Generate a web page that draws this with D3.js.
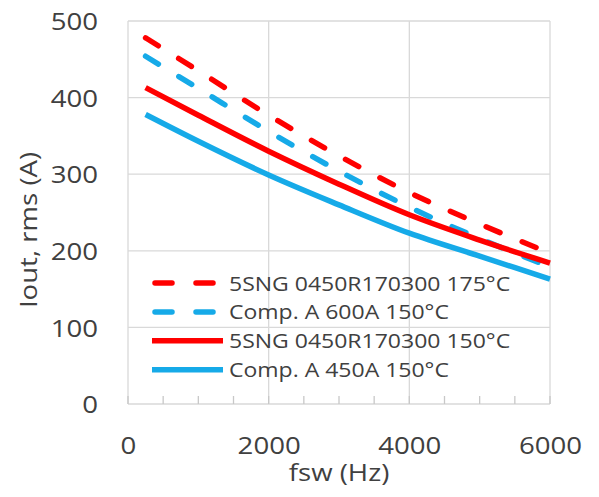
<!DOCTYPE html>
<html>
<head>
<meta charset="utf-8">
<script src="https://cdn.jsdelivr.net/npm/d3@7"></script>
<style>
  body { margin: 0; background: #fff; }
  svg { display: block; }
</style>
</head>
<body>
<div id="chart"></div>
<script>
// switching frequency (Hz) and rms output current (A)
const freq = [250, 1000, 2000, 3000, 4000, 5000, 6000];
const redDashed = [478, 435, 377, 324, 276, 235, 197];
const blueDashed = [454, 412, 356, 304, 257, 216, 179];
const redSolid = [413, 377, 330, 287, 247, 214, 184];
const blueSolid = [378, 343, 299, 260, 223, 193, 163];

const seriesNames = [
    "5SNG 0450R170300 175°C",
    "Comp. A 600A 150°C",
    "5SNG 0450R170300 150°C",
    "Comp. A 450A 150°C"
];
const xTicks = [0, 2000, 4000, 6000];
const xMinor = d3.range(0, 6001, 500);
const yTicks = [0, 100, 200, 300, 400, 500];

const RED = "#ff0000", BLUE = "#16aae8";
const series = [
    {name: seriesNames[0], values: redDashed, color: RED, dashed: true},
    {name: seriesNames[1], values: blueDashed, color: BLUE, dashed: true},
    {name: seriesNames[2], values: redSolid, color: RED, dashed: false},
    {name: seriesNames[3], values: blueSolid, color: BLUE, dashed: false}
];

const width = 599, height = 497;
const margin = {top: 21, right: 49, bottom: 93, left: 128};
const sx = 1.15; // the source text is stretched sideways
const textColor = "#404040", gridColor = "#d9d9d9";
const font = "'Open Sans', 'Noto Sans', sans-serif";

const x = d3.scaleLinear().domain([0, 6000]).range([margin.left, width - margin.right]);
const y = d3.scaleLinear().domain([0, 500]).range([height - margin.bottom, margin.top]);

const svg = d3.select("#chart").append("svg")
    .attr("width", width)
    .attr("height", height)
    .style("font-family", font);

svg.append("rect").attr("width", width).attr("height", height).attr("fill", "#fff");

// grid
svg.append("g").selectAll("line")
    .data(yTicks)
    .join("line")
        .attr("x1", x(0)).attr("x2", x(6000))
        .attr("y1", d => y(d)).attr("y2", d => y(d))
        .attr("stroke", gridColor).attr("stroke-width", 1.3);

svg.append("g").selectAll("line")
    .data(xTicks)
    .join("line")
        .attr("x1", d => x(d)).attr("x2", d => x(d))
        .attr("y1", y(0)).attr("y2", y(500))
        .attr("stroke", gridColor).attr("stroke-width", 1.3);

// minor ticks pointing up from the x axis
svg.append("g").selectAll("line")
    .data(xMinor)
    .join("line")
        .attr("x1", d => x(d)).attr("x2", d => x(d))
        .attr("y1", y(0)).attr("y2", y(0) - 8)
        .attr("stroke", "#c8c8c8").attr("stroke-width", 1.3);

// axis labels
const yAxis = d3.axisLeft(y).tickValues(yTicks).tickSize(0).tickPadding(0);
const gy = svg.append("g").attr("transform", `translate(${x(0)},0)`).call(yAxis);
gy.select(".domain").remove();
gy.selectAll("text")
    .attr("x", -30 / sx)
    .attr("dy", "0.36em")
    .attr("transform", `scale(${sx},1)`)
    .attr("font-size", 24)
    .attr("font-family", font)
    .attr("fill", textColor);

const xAxis = d3.axisBottom(x).tickValues(xTicks).tickFormat(d3.format("d")).tickSize(0).tickPadding(0);
const gx = svg.append("g").attr("transform", `translate(0,${y(0)})`).call(xAxis);
gx.select(".domain").remove();
gx.selectAll("text")
    .attr("y", 50)
    .attr("dy", 0)
    .attr("transform", `scale(${sx},1)`)
    .attr("font-size", 24)
    .attr("font-family", font)
    .attr("fill", textColor);

svg.append("text")
    .attr("transform", `translate(${(x(0) + x(6000)) / 2},481) scale(${sx},1)`)
    .attr("text-anchor", "middle")
    .attr("font-size", 24)
    .attr("fill", textColor)
    .text("fsw (Hz)");

svg.append("text")
    .attr("transform", `translate(37,230) rotate(-90) scale(${sx},1)`)
    .attr("text-anchor", "middle")
    .attr("font-size", 24)
    .attr("fill", textColor)
    .text("Iout, rms (A)");

// curves
const line = d3.line()
    .x((d, i) => x(freq[i]))
    .y(d => y(d))
    .curve(d3.curveMonotoneX);

svg.append("g").selectAll("path")
    .data(series)
    .join("path")
        .attr("d", d => line(d.values))
        .attr("fill", "none")
        .attr("stroke", d => d.color)
        .attr("stroke-width", 5.5)
        .attr("stroke-linecap", d => d.dashed ? "round" : "butt")
        .attr("stroke-dasharray", d => d.dashed ? "15,24" : null);

// legend
const legend = svg.append("g").attr("transform", "translate(152,283)");
const row = legend.selectAll("g")
    .data(series)
    .join("g")
        .attr("transform", (d, i) => `translate(0,${i * 28.9})`);

row.append("line")
    .attr("x1", d => d.dashed ? 3 : 0)
    .attr("x2", d => d.dashed ? 65 : 71)
    .attr("stroke", d => d.color)
    .attr("stroke-width", 5.5)
    .attr("stroke-linecap", d => d.dashed ? "round" : "butt")
    .attr("stroke-dasharray", d => d.dashed ? "17,24" : null);

row.append("text")
    .attr("transform", `translate(77,7.5) scale(${sx},1)`)
    .attr("font-size", 20)
    .attr("fill", textColor)
    .text(d => d.name);
</script>
</body>
</html>
